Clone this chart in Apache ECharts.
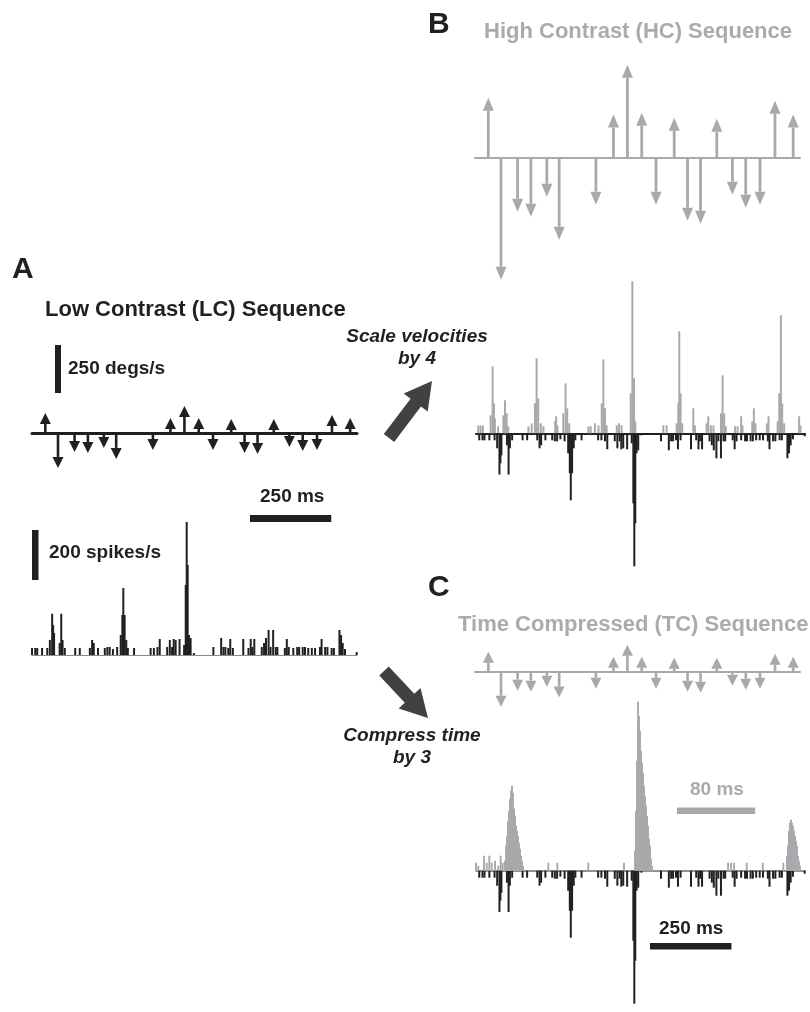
<!DOCTYPE html>
<html><head><meta charset="utf-8">
<script src="https://cdn.jsdelivr.net/npm/echarts@6/dist/echarts.min.js"></script>
<style>html,body{margin:0;padding:0;background:#fff}#c{width:810px;height:1012px}</style>
</head><body><div id="c"></div>
<script>
// ---- data ----
// stimulus step times, LC sequence (ms)
const stimTimes = [41, 80, 131, 172, 221, 259, 372, 426, 469, 513, 557, 613, 654, 694, 744, 792, 833, 877, 923, 979];
// same steps in the time-compressed (TC) sequence (ms)
const tcTimes = [13.7, 26.7, 43.7, 57.3, 73.7, 86.3, 124, 142, 156.3, 171, 185.7, 204.3, 218, 231.3, 248, 264, 277.7, 292.3, 307.7, 326.3];
// velocities (degs/s)
const lcVelocity = [104, -182, -99, -104, -78, -135, -89, 78, 141, 78, -89, 73, -104, -109, 73, -73, -94, -89, 94, 78];
const hcVelocity = [358, -728, -322, -352, -233, -489, -280, 257, 555, 268, -280, 239, -376, -394, 233, -221, -298, -280, 340, 257];
// firing rate bins [time ms, spikes/s]
const lcRate = [[0,28],[10,28],[16,28],[31,28],[47,28],[55,60],[62,165],[65,120],[68,88],[85,48],[90,165],[94,60],[101,28],[133,28],[147,28],[178,28],[185,60],[190,48],[203,28],[224,28],[232,32],[239,32],[249,24],[262,32],[273,80],[278,160],[281,268],[285,160],[290,60],[295,28],[314,28],[365,28],[375,28],[386,32],[393,64],[416,32],[424,60],[431,32],[436,64],[442,60],[454,64],[468,40],[473,280],[476,532],[479,360],[483,80],[488,68],[498,8],[558,32],[582,68],[589,32],[595,32],[604,28],[610,64],[618,28],[650,64],[666,28],[673,64],[678,32],[684,64],[707,32],[714,48],[720,68],[728,100],[734,32],[742,100],[750,32],[755,32],[778,28],[784,64],[790,32],[804,28],[816,32],[822,32],[833,32],[840,32],[850,28],[861,28],[871,28],[886,32],[891,64],[902,32],[909,32],[922,28],[929,28],[946,100],[951,80],[956,48],[963,24],[999,12]];
const hcRate = [[-3,31],[4,31],[11,31],[35,72],[41,268],[45,120],[48,60],[58,28],[74,72],[79,132],[84,80],[89,28],[151,28],[161,40],[171,120],[176,300],[181,140],[189,40],[197,28],[233,48],[236,68],[240,32],[258,80],[265,200],[270,100],[276,40],[335,28],[342,28],[355,40],[366,32],[376,120],[381,296],[386,100],[391,32],[422,32],[429,40],[437,32],[465,160],[470,608],[475,220],[479,48],[565,32],[575,32],[606,40],[611,120],[614,408],[618,160],[623,40],[657,100],[662,32],[698,40],[703,68],[711,32],[719,32],[742,80],[747,232],[752,80],[757,28],[785,28],[793,28],[804,68],[808,32],[838,48],[843,100],[848,40],[883,40],[888,68],[916,48],[921,160],[926,472],[930,120],[936,40],[982,68],[986,32]];
const tcRate = [[-3.3,32],[-1,20],[4.9,60],[7.6,32],[10.3,60],[12.7,32],[16.1,40],[19.5,20],[21.9,60],[24,32],
 [26.3,40],[27.4,100],[28.4,140],[29.4,200],[30.4,240],[31.5,288],[32.5,320],[33.5,340],[34.5,312],[35.6,248],[36.6,220],[37.6,180],[38.6,160],[39.6,140],[40.7,112],[41.7,88],[42.7,60],[43.7,40],[44.8,20],
 [70.7,32],[79.9,32],[111.6,32],[148.1,32],
 [159.4,80],[160.4,240],[161.4,440],[162.5,676],[163.5,620],[164.5,560],[165.5,480],[166.5,432],[167.6,392],[168.6,340],[169.6,300],[170.6,260],[171.7,220],[172.7,180],[173.7,128],[174.7,100],[175.7,48],[176.8,20],
 [254.6,32],[257.7,32],[260.7,32],[273.7,32],[290.1,32],[311.2,32],
 [314.9,60],[315.9,100],[316.9,160],[318,192],[319,204],[320,192],[321,180],[322,160],[323.1,140],[324.1,120],[325.1,100],[326.1,60],[327.1,40],[328.2,20]];
// scale bar values
const scaleLC_ms = 250, scaleTC_ms = 80, scaleVel = 250, scaleRate = 200;

// ---- styling ----
const BLACK = '#231f20', GRAY = '#a7a9ac', GTEXT = '#ababab';
const FONT = '"Liberation Sans", Arial, Helvetica, sans-serif';

const chart = echarts.init(document.getElementById('c'));

function xA(grid, min, max, line) {
  return {type:'value', gridIndex:grid, min:min, max:max, show:!!line,
    axisLine: line ? {show:true, onZero:true, lineStyle:line} : {show:false},
    axisTick:{show:false}, axisLabel:{show:false}, splitLine:{show:false}};
}
function yA(grid, min, max, inverse) {
  return {type:'value', gridIndex:grid, min:min, max:max, inverse:!!inverse, show:false,
    axisLine:{show:false}, axisTick:{show:false}, axisLabel:{show:false}, splitLine:{show:false}};
}
function arrows(xi, yi, times, vel, color, sw, hw, hh) {
  return {type:'custom', coordinateSystem:'cartesian2d', xAxisIndex:xi, yAxisIndex:yi,
    data: times.map((t,i)=>[t, vel[i]]), silent:true, z:5,
    renderItem: function(params, api) {
      const p0 = api.coord([api.value(0), 0]);
      const p1 = api.coord([api.value(0), api.value(1)]);
      const dir = p1[1] < p0[1] ? -1 : 1;
      let len = Math.max(Math.abs(p1[1]-p0[1]), hh);
      const tipY = p0[1] + dir*len, baseY = tipY - dir*hh;
      return {type:'group', children:[
        {type:'rect', shape:{x:p0[0]-sw/2, y:Math.min(p0[1], baseY), width:sw, height:Math.abs(baseY-p0[1])}, style:{fill:color}},
        {type:'polygon', shape:{points:[[p0[0], tipY],[p0[0]-hw/2, baseY],[p0[0]+hw/2, baseY]]}, style:{fill:color}}
      ]};
    }};
}
function bars(xi, yi, data, color, w) {
  return {type:'bar', xAxisIndex:xi, yAxisIndex:yi, data:data, barWidth:w, silent:true,
    itemStyle:{color:color}, large:false};
}

chart.setOption({
  animation:false,
  grid:[
    {left:32, top:385, width:325, height:96},      // 0 A stimulus
    {left:32, top:515, width:325, height:140},     // 1 A response
    {left:475, top:23.6, width:325, height:268.2}, // 2 B stimulus
    {left:476, top:273.3, width:329, height:300},  // 3 B response
    {left:475, top:623.7, width:325, height:96},   // 4 C stimulus
    {left:476, top:690.7, width:329, height:320}   // 5 C response
  ],
  xAxis:[
    xA(0, 0, 1000, {color:BLACK, width:3}),
    xA(1, 0, 1000, {color:'#8a8a8a', width:1}),
    xA(2, 0, 1000, {color:GRAY, width:2}),
    xA(3, -10, 1000, {color:BLACK, width:2}),
    xA(3, -10, 1000, null),
    xA(4, 0, 333.3, {color:GRAY, width:2}),
    xA(5, -10, 1000, {color:'#6d6e71', width:1.5}),
    xA(5, -3.333, 333.333, null)
  ],
  yAxis:[
    yA(0, -250, 250),
    yA(1, 0, 560),
    yA(2, -800, 800),
    yA(3, -560, 640),
    yA(3, -640, 560, true),
    yA(4, -250, 250),
    yA(5, -560, 720),
    yA(5, -720, 560, true)
  ],
  series:[
    arrows(0, 0, stimTimes, lcVelocity, BLACK, 2.6, 11, 11),
    bars(1, 1, lcRate, BLACK, 2),
    arrows(2, 2, stimTimes, hcVelocity, GRAY, 2.8, 11, 13),
    bars(3, 3, hcRate, GRAY, 2),
    bars(4, 4, lcRate, BLACK, 2),
    arrows(5, 5, tcTimes, lcVelocity, GRAY, 2.6, 11, 11),
    bars(6, 7, lcRate, BLACK, 2),
    bars(7, 6, tcRate, GRAY, 1.9)
  ]
});

// ---- annotations (scale bars sized through the axes) ----
const px = (f, v) => chart.convertToPixel(f, v);
const lenA_ms = px({xAxisIndex:1}, scaleLC_ms) - px({xAxisIndex:1}, 0);
const lenA_deg = px({yAxisIndex:0}, 0) - px({yAxisIndex:0}, scaleVel);
const lenA_sp = px({yAxisIndex:1}, 0) - px({yAxisIndex:1}, scaleRate);
const lenC_tc = px({xAxisIndex:7}, scaleTC_ms) - px({xAxisIndex:7}, 0);
const lenC_lc = px({xAxisIndex:6}, scaleLC_ms) - px({xAxisIndex:6}, 0);

function txt(x, y, s, size, color, opts) {
  opts = opts || {};
  const w = opts.italic ? 'italic bold ' : 'bold ';
  const al = opts.align || 'left';
  return {type:'text', x:x, y:y, silent:true, z:10, style:{text:s, font:w+size+'px '+FONT, fill:color,
    textAlign:al, align:al, textVerticalAlign:'middle', verticalAlign:'middle'}};
}
function rect(x, y, w, h, color) {
  return {type:'rect', shape:{x:x, y:y, width:w, height:h}, style:{fill:color}, silent:true, z:10};
}
function bigArrow(tail, tip, sw, hw, hl, color) {
  const dx = tip[0]-tail[0], dy = tip[1]-tail[1], L = Math.hypot(dx, dy);
  const ux = dx/L, uy = dy/L, nx = -uy, ny = ux;
  const bx = tip[0]-ux*hl, by = tip[1]-uy*hl;
  const P = (x, y, k) => [x+nx*k, y+ny*k];
  return {type:'polygon', silent:true, z:10, style:{fill:color}, shape:{points:[
    P(tail[0], tail[1], sw/2), P(bx, by, sw/2), P(bx, by, hw/2), tip,
    P(bx, by, -hw/2), P(bx, by, -sw/2), P(tail[0], tail[1], -sw/2)]}};
}

chart.setOption({graphic:[
  txt(12, 270, 'A', 30, BLACK),
  txt(45, 310, 'Low Contrast (LC) Sequence', 22, BLACK),
  rect(55, 393 - lenA_deg, 6, lenA_deg, BLACK),
  txt(68, 369, '250 degs/s', 19, BLACK),
  txt(260, 497, '250 ms', 19, BLACK),
  rect(250, 515, lenA_ms, 7, BLACK),
  rect(32, 530, 6.5, lenA_sp, BLACK),
  txt(49, 553, '200 spikes/s', 19, BLACK),
  txt(417, 337, 'Scale velocities', 19, BLACK, {italic:true, align:'center'}),
  txt(417, 359, 'by 4', 19, BLACK, {italic:true, align:'center'}),
  bigArrow([389, 438], [432, 381], 13, 30, 27, '#414042'),
  txt(428, 25, 'B', 30, BLACK),
  txt(484, 32, 'High Contrast (HC) Sequence', 22, GTEXT),
  txt(428, 588, 'C', 30, BLACK),
  txt(458, 625, 'Time Compressed (TC) Sequence', 22, GTEXT),
  bigArrow([384, 671], [428, 718], 13, 30, 27, '#414042'),
  txt(412, 736, 'Compress time', 19, BLACK, {italic:true, align:'center'}),
  txt(412, 758, 'by 3', 19, BLACK, {italic:true, align:'center'}),
  txt(690, 790, '80 ms', 19, GTEXT),
  rect(677, 807.5, lenC_tc, 6.5, GRAY),
  txt(659, 929, '250 ms', 19, BLACK),
  rect(650, 943, lenC_lc, 6.5, BLACK)
]});
</script></body></html>
